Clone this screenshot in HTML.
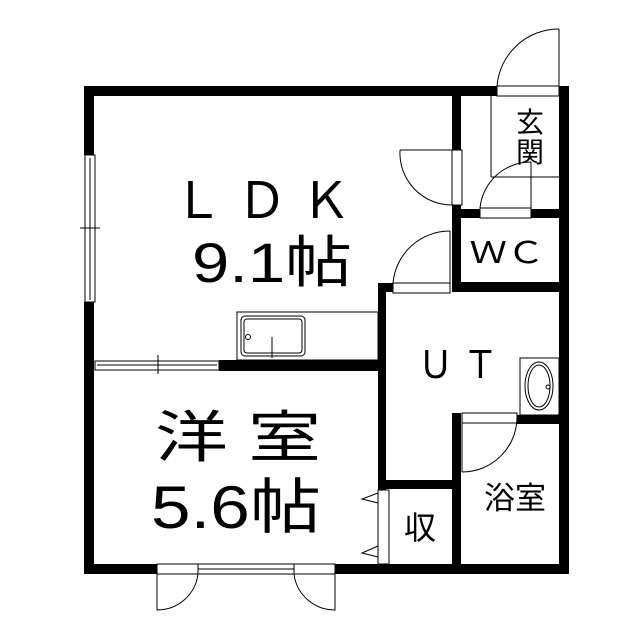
<!DOCTYPE html>
<html><head><meta charset="utf-8"><style>body{margin:0;background:#fff}svg{display:block}</style></head><body>
<svg width="640" height="640" viewBox="0 0 640 640" xmlns="http://www.w3.org/2000/svg" font-family="Liberation Sans, Noto Sans CJK JP, sans-serif">
<rect width="640" height="640" fill="#fff"/>
<g fill="#000">
<rect x="84" y="86" width="413" height="10"/>
<rect x="559" y="86" width="10" height="488"/>
<rect x="84" y="86" width="10" height="69"/>
<rect x="84" y="302" width="10" height="272"/>
<rect x="84" y="564" width="73" height="10"/>
<rect x="335" y="564" width="234" height="10"/>
<rect x="452" y="86" width="9" height="64"/>
<rect x="452" y="205" width="9" height="87"/>
<rect x="461" y="209" width="19" height="9"/>
<rect x="531" y="209" width="29" height="9"/>
<rect x="452" y="282" width="108" height="10"/>
<rect x="378" y="283" width="15" height="9"/>
<rect x="378" y="283" width="8" height="207"/>
<rect x="378" y="480" width="74" height="9"/>
<rect x="219" y="360" width="160" height="11"/>
<rect x="452" y="413" width="9" height="155"/>
<rect x="517" y="415" width="43" height="9"/>
</g>
<g fill="none" stroke="#000" stroke-width="1">
<rect x="85" y="155" width="10" height="147"/><line x1="90" y1="158" x2="90" y2="300"/><line x1="80" y1="228" x2="100" y2="228"/>
<rect x="95" y="361" width="124" height="9"/><line x1="97" y1="365" x2="217" y2="365"/><line x1="158" y1="355" x2="158" y2="374"/>
<rect x="237" y="312" width="141" height="48"/><rect x="241" y="316" width="64" height="40" rx="4"/><rect x="244" y="319" width="58" height="34" rx="3"/><circle cx="248" cy="337" r="2.5"/><line x1="272" y1="337" x2="272" y2="358"/>
<rect x="452" y="150" width="10" height="55"/><path d="M400 150 A52 52 0 0 0 452 205"/><line x1="400" y1="150" x2="452" y2="150"/>
<rect x="497" y="86" width="62" height="10"/><path d="M497 86 A62 62 0 0 1 559 29"/><line x1="559" y1="29" x2="559" y2="86"/>
<line x1="491" y1="96" x2="491" y2="177"/><line x1="491" y1="177" x2="559" y2="177"/>
<rect x="480" y="208" width="51" height="10"/><path d="M480 208 A51 51 0 0 1 531 162"/><line x1="531" y1="162" x2="531" y2="208"/>
<rect x="393" y="283" width="57" height="10"/><path d="M393 283 A57 57 0 0 1 450 231"/><line x1="450" y1="231" x2="450" y2="283"/>
<rect x="462" y="413" width="55" height="10"/><path d="M462 472 A55 55 0 0 0 517 415"/><line x1="462" y1="423" x2="462" y2="472"/>
<rect x="520" y="358" width="39" height="57"/><ellipse cx="539" cy="386" rx="14" ry="24"/><ellipse cx="539" cy="386" rx="11" ry="21"/><circle cx="548" cy="387" r="2"/>
<rect x="378" y="490" width="11" height="74"/><path d="M378 493 L362 499 L378 503 M378 546 L362 553 L378 557"/>
<line x1="198" y1="564" x2="294" y2="564"/><line x1="198" y1="569" x2="294" y2="569"/><line x1="198" y1="574" x2="294" y2="574"/>
<rect x="157" y="564" width="41" height="10"/><path d="M157 574 L157 610 A41 41 0 0 0 198 574"/>
<rect x="294" y="564" width="41" height="10"/><path d="M335 574 L335 610 A41 41 0 0 1 294 574"/>
</g>
<g fill="#000" text-anchor="middle">
<text x="262" y="218" font-size="50" textLength="178" lengthAdjust="spacingAndGlyphs">Ｌ Ｄ Ｋ</text>
<text x="272" y="282" font-size="56" textLength="160" lengthAdjust="spacingAndGlyphs">9.1帖</text>
<text x="530" y="132" font-size="28">玄</text>
<text x="530" y="162" font-size="28">関</text>
<text x="507" y="263" font-size="30" textLength="75" lengthAdjust="spacingAndGlyphs">ＷＣ</text>
<text x="458" y="378" font-size="38" textLength="80" lengthAdjust="spacingAndGlyphs">Ｕ Ｔ</text>
<text x="238" y="457" font-size="56" textLength="166" lengthAdjust="spacingAndGlyphs">洋 室</text>
<text x="236" y="528" font-size="60" textLength="170" lengthAdjust="spacingAndGlyphs">5.6帖</text>
<text x="515" y="509" font-size="31">浴室</text>
<text x="420" y="539" font-size="32">収</text>
</g>
</svg>
</body></html>
